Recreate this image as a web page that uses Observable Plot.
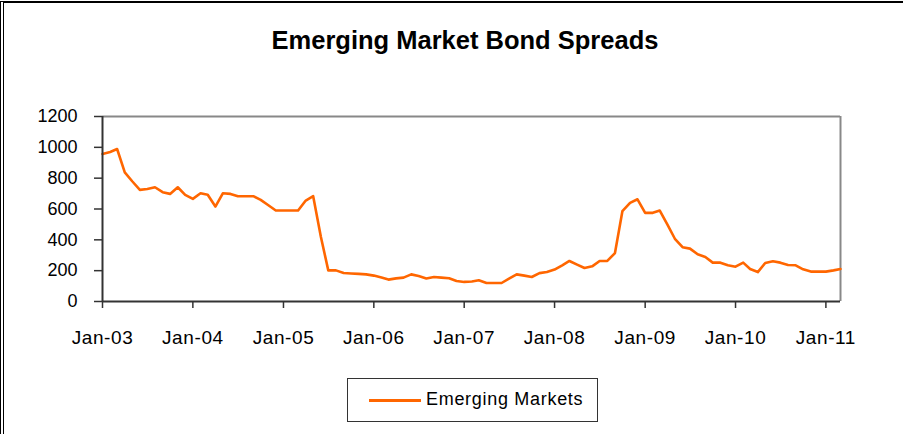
<!DOCTYPE html>
<html>
<head>
<meta charset="utf-8">
<script src="https://cdn.jsdelivr.net/npm/d3@7"></script>
<script src="https://cdn.jsdelivr.net/npm/@observablehq/plot@0.6"></script>
<style>
  html, body { margin: 0; padding: 0; background: #fff; }
  body { width: 907px; height: 434px; position: relative; overflow: hidden; font-family: "Liberation Sans", Arial, sans-serif; }
  #border { position: absolute; left: 0; top: 1px; width: 903px; height: 440px; border-left: 4px double #000; border-top: 2px solid #000; box-sizing: border-box; }
  #title { position: absolute; left: 0; width: 930px; top: 26px; text-align: center; font-size: 25.5px; font-weight: bold; color: #000; }
  #chart { position: absolute; left: 0; top: 0; }
  #legend { position: absolute; left: 347px; top: 378px; width: 251px; height: 44px; border: 1px solid #333; box-sizing: border-box; }
  #legend .sw { position: absolute; left: 21px; top: 20px; width: 52px; height: 3px; background: #FF6600; }
  #legend .lb { position: absolute; left: 78px; top: 10px; font-size: 18px; letter-spacing: 0.7px; color: #000; white-space: nowrap; }
  .xax text { letter-spacing: 0.6px; }
</style>
</head>
<body>
<div id="chart"></div>
<div id="border"></div>
<div id="title">Emerging Market Bond Spreads</div>
<div id="legend"><div class="sw"></div><div class="lb">Emerging Markets</div></div>
<script>
// Monthly spreads (bp), Jan-03 .. Mar-11
const seriesName = "Emerging Markets";
const spreads = [
  957, 970, 989, 838, 780, 724, 730, 741, 709, 698, 741, 692,
  666, 702, 692, 616, 702, 698, 683, 683, 683, 659, 624, 590,
  590, 590, 590, 655, 683, 420, 202, 202, 185, 182, 179, 176,
  168, 155, 142, 150, 155, 176, 165, 149, 159, 155, 151, 133,
  127, 130, 138, 120, 120, 120, 148, 176, 168, 159, 184, 191,
  207, 235, 263, 239, 217, 228, 263, 263, 314, 586, 640, 663,
  575, 575, 590, 498, 407, 352, 343, 306, 289, 252, 252, 235,
  226, 252, 211, 191, 250, 261, 252, 237, 235, 209, 194, 194,
  194, 202, 211
];
const startMonth = new Date(Date.UTC(2003, 0, 1));
const endMonth = new Date(Date.UTC(2011, 2, 1));
const months = d3.utcMonth.range(startMonth, d3.utcMonth.offset(endMonth, 1));
const yTicks = [0, 200, 400, 600, 800, 1000, 1200];
const xTicks = d3.utcYear.range(startMonth, d3.utcMonth.offset(endMonth, 1));

const data = months.map((d, i) => ({date: d, value: spreads[i]}));

const chart = Plot.plot({
  width: 907,
  height: 434,
  marginLeft: 102,
  marginRight: 67,
  marginTop: 116,
  marginBottom: 133,
  style: {fontFamily: "'Liberation Sans', Arial, sans-serif", fontSize: "18px", color: "#000", background: "transparent"},
  x: {type: "utc", domain: [startMonth, endMonth]},
  y: {domain: [0, 1200]},
  marks: [
    Plot.ruleY([1200], {stroke: "#888", strokeWidth: 2}),
    Plot.ruleX([endMonth], {stroke: "#888", strokeWidth: 2}),
    Plot.line(data, {x: "date", y: "value", stroke: "#FF6600", strokeWidth: 2.6}),
    Plot.ruleY([0], {stroke: "#333", strokeWidth: 2}),
    Plot.ruleX([startMonth], {stroke: "#333", strokeWidth: 2}),
    Plot.axisY({ticks: yTicks, tickSize: 8, tickPadding: 17, tickFormat: d => String(d), label: null, stroke: "#333", strokeWidth: 1.5}),
    Plot.axisX({ticks: xTicks, tickSize: 7, tickPadding: 22, fontSize: 19, className: "xax", tickFormat: d3.utcFormat("%b-%y"), label: null, stroke: "#333", strokeWidth: 1.5})
  ]
});
document.getElementById("chart").appendChild(chart);
</script>
</body>
</html>
